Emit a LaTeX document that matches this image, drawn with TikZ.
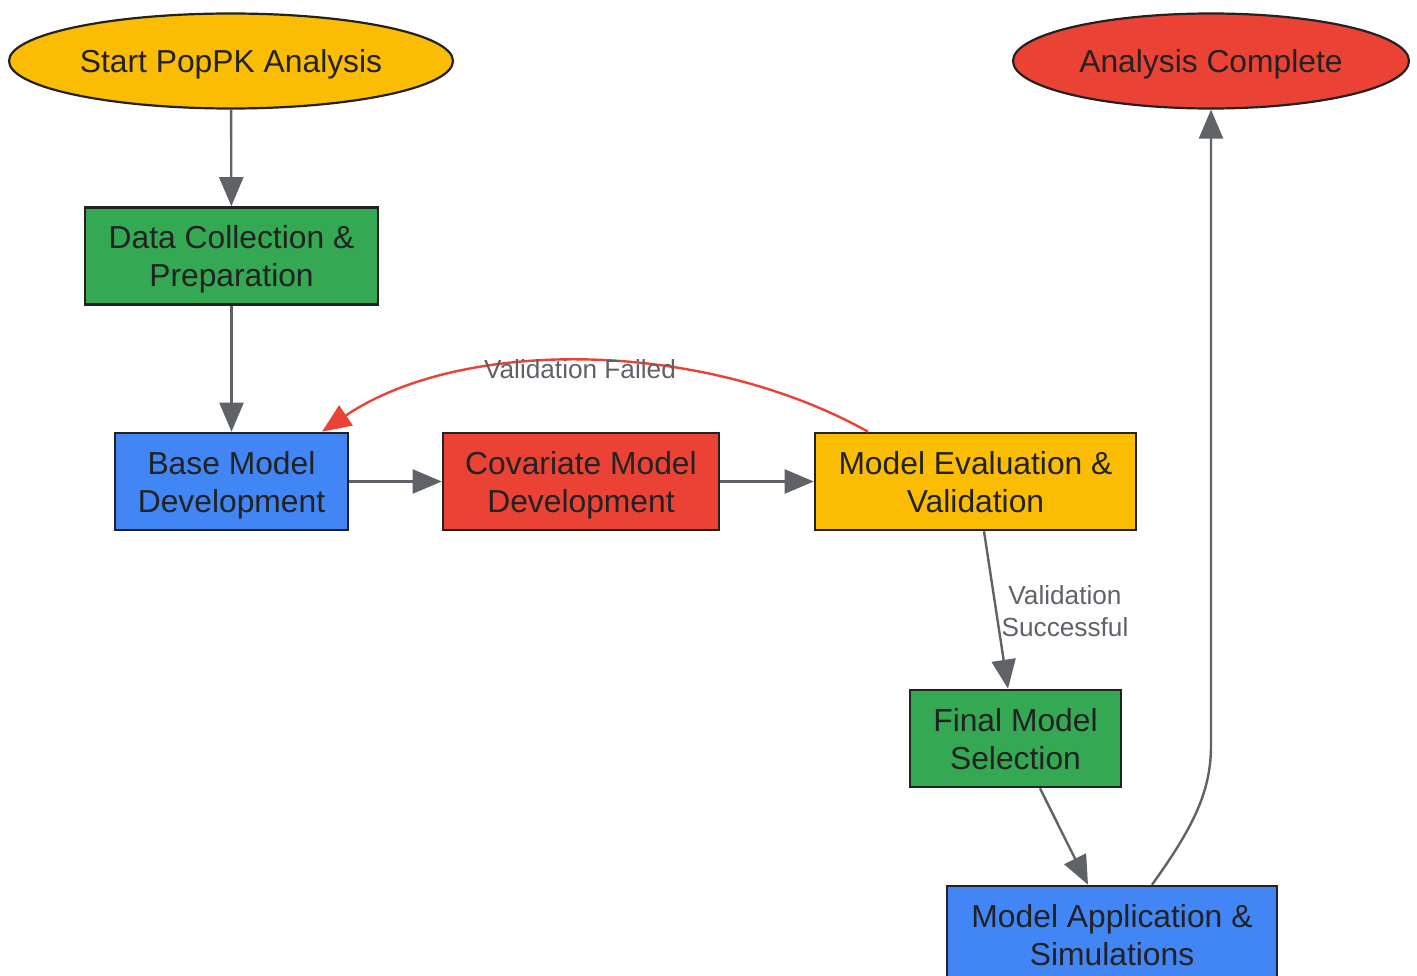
\documentclass[tikz,border=0pt]{standalone}
\usepackage{fontspec}
\setmainfont{Liberation Sans}
\usetikzlibrary{arrows.meta,shapes.geometric}
\definecolor{gyellow}{HTML}{FBBC04}
\definecolor{gred}{HTML}{EA4335}
\definecolor{ggreen}{HTML}{34A853}
\definecolor{gblue}{HTML}{4285F4}
\definecolor{edgegray}{HTML}{5F6368}
\definecolor{txt}{HTML}{222222}
\definecolor{bord}{HTML}{222222}
\newcommand{\lstrut}{\rule[-7pt]{0pt}{37pt}}
\tikzset{
  box/.style={draw=bord, line width=2.6pt, rectangle, inner sep=0pt, minimum height=97pt, align=center, text=txt,
    font=\fontsize{31.8}{38}\selectfont},
  oval/.style={draw=bord, line width=2.2pt, ellipse, inner sep=0pt, minimum height=95pt, text=txt,
    font=\fontsize{31.8}{38}\selectfont},
  conn/.style={draw=edgegray, line width=2.4pt, -{Triangle[length=29pt,width=24pt]}},
  failconn/.style={draw=gred, line width=2.4pt, -{Triangle[length=29pt,width=24pt]}},
  elabel/.style={text=edgegray, align=center, font=\fontsize{26.2}{32}\selectfont, inner sep=0pt},
}
\begin{document}
\begin{tikzpicture}[x=1pt,y=-1pt]
\useasboundingbox[fill=white] (0,0) rectangle (1417,976);
\node[oval, fill=gyellow, minimum width=444pt] (start) at (231,61) {\lstrut Start PopPK Analysis};
\node[oval, fill=gred, minimum width=396pt] (done) at (1211,61) {\lstrut Analysis Complete};
\node[box, fill=ggreen, minimum width=293pt] (data) at (231.5,256) {\lstrut Data Collection \&\\\lstrut Preparation};
\node[box, fill=gblue, minimum width=233pt] (base) at (231.5,481.5) {\lstrut Base Model\\\lstrut Development};
\node[box, fill=gred, minimum width=276pt] (cov) at (581,481.5) {\lstrut Covariate Model\\\lstrut Development};
\node[box, fill=gyellow, minimum width=321pt] (eval) at (975.5,481.5) {\lstrut Model Evaluation \&\\\lstrut Validation};
\node[box, fill=ggreen, minimum width=211pt] (final) at (1015.5,738.5) {\lstrut Final Model\\\lstrut Selection};
\node[box, fill=gblue, minimum width=330pt] (app) at (1112,934.5) {\lstrut Model Application \&\\\lstrut Simulations};

\draw[conn] (start) -- (data);
\draw[conn] (data) -- (base);
\draw[conn] (base) -- (cov);
\draw[conn] (cov) -- (eval);
\draw[failconn] ([xshift=-107.5pt]eval.north) .. controls (700,338) and (460,338) .. ([xshift=90.5pt]base.north);
\node[elabel] (lfail) at (580,369) {Validation Failed};
\draw[conn] ([xshift=8.5pt]eval.south) -- ([xshift=-7.5pt]final.north);
\node[elabel] (lsucc) at (1065,611) {Validation\\Successful};
\draw[conn] ([xshift=24.5pt]final.south) -- ([xshift=-24pt]app.north);
\draw[conn] ([xshift=40pt]app.north) .. controls (1195,825) and (1211,790) .. (1211,745) -- (done.south);
\end{tikzpicture}
\end{document}
